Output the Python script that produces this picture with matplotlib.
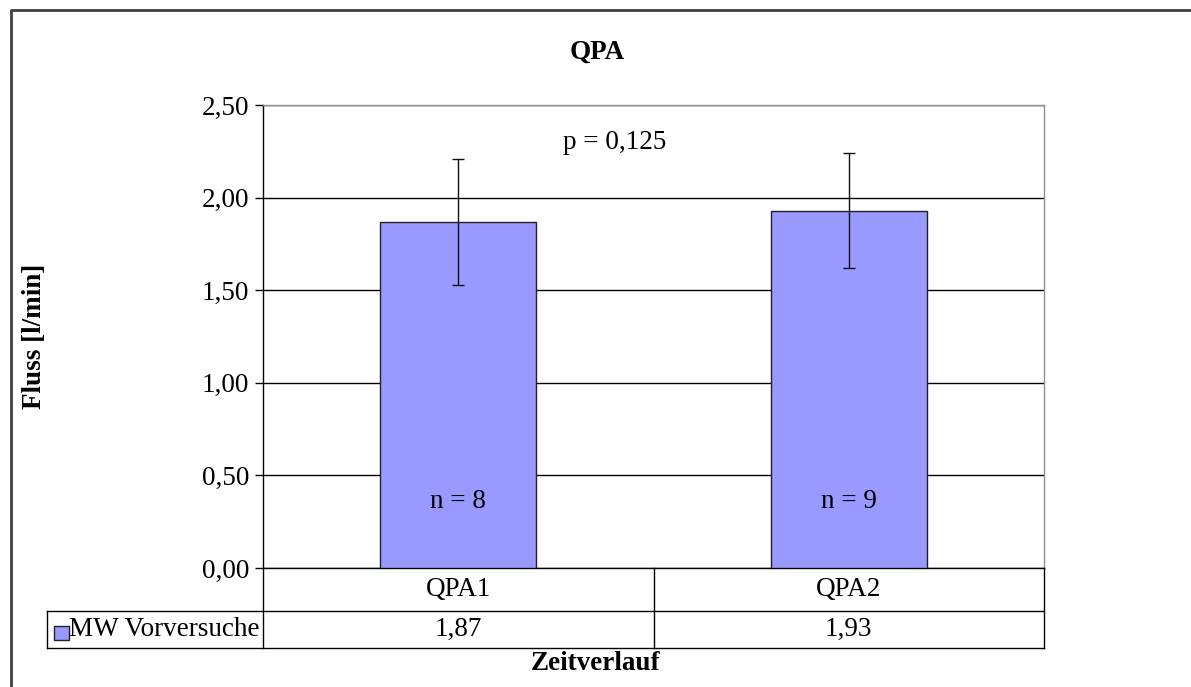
import matplotlib.pyplot as plt
from matplotlib.lines import Line2D
from matplotlib.patches import Rectangle

categories = ['QPA1', 'QPA2']
means = [1.87, 1.93]
errors = [0.34, 0.31]
n_labels = ['n = 8', 'n = 9']
table_values = ['1,87', '1,93']
series_name = 'MW Vorversuche'
p_text = 'p = 0,125'
yticks = [0.0, 0.5, 1.0, 1.5, 2.0, 2.5]

W, H = 1191, 687
FS = 19.5
plt.rcParams['font.family'] = ['Liberation Serif', 'DejaVu Serif']
fig = plt.figure(figsize=(W / 100, H / 100), dpi=100)


def fx(x):
    return x / W


def fy(y):
    return 1 - y / H


# plot area in pixels
left, right, top, bottom = 263, 1044, 105, 568
ax = fig.add_axes([fx(left), fy(bottom), fx(right - left), (bottom - top) / H])

x = list(range(len(categories)))
ax.bar(x, means, width=0.4, color='#9999FF', edgecolor='#222222', linewidth=1, zorder=3)
ax.errorbar(x, means, yerr=errors, fmt='none', ecolor='#111111', elinewidth=1,
            capsize=4, capthick=1, zorder=4)
for i, lab in enumerate(n_labels):
    ax.text(x[i], 0.36, lab, ha='center', va='center', fontsize=FS, zorder=5)
ax.text(0.4, 2.3, p_text, ha='center', va='center', fontsize=FS)

ax.set_xlim(-0.5, len(categories) - 0.5)
ax.set_ylim(0, 2.5)
ax.set_yticks(yticks)
ax.set_yticklabels([f'{v:.2f}'.replace('.', ',') for v in yticks], fontsize=FS)
ax.set_xticks([])
ax.grid(axis='y', color='black', linewidth=1, zorder=1)
ax.tick_params(axis='y', length=6, width=1, pad=4, direction='out')
ax.spines['left'].set_color('black')
ax.spines['bottom'].set_color('black')
ax.spines['top'].set_color('#909090')
ax.spines['right'].set_color('#909090')
for s in ax.spines.values():
    s.set_linewidth(1)

# data table below the axis
fig.canvas.draw()
to_px = lambda xv: (ax.transData.transform((xv, 0))[0])
col_edges = [to_px(v) / (fig.dpi * fig.get_figwidth()) * W for v in [-0.5, 0.5, 1.5]]
row1, row2, row3 = 568, 611, 648
legend_left = 47


def hline(x0, x1, y, c='black'):
    fig.add_artist(Line2D([fx(x0), fx(x1)], [fy(y), fy(y)], color=c, linewidth=1))


def vline(xp, y0, y1, c='black'):
    fig.add_artist(Line2D([fx(xp), fx(xp)], [fy(y0), fy(y1)], color=c, linewidth=1))


hline(legend_left, col_edges[-1], row2)
hline(legend_left, col_edges[-1], row3)
vline(legend_left, row2, row3)
for ce in col_edges:
    vline(ce, row1, row3)

for i, cat in enumerate(categories):
    cx = (col_edges[i] + col_edges[i + 1]) / 2
    fig.text(fx(cx), fy((row1 + row2) / 2), cat, ha='center', va='center', fontsize=FS)
    fig.text(fx(cx), fy((row2 + row3) / 2), table_values[i], ha='center', va='center', fontsize=FS)

fig.add_artist(Rectangle((fx(54), fy(640)), fx(15), 14 / H, facecolor='#9999FF',
                         edgecolor='#222222', linewidth=1))
fig.text(fx(69), fy((row2 + row3) / 2), series_name, ha='left', va='center', fontsize=FS)

# titles
fig.text(fx(597), fy(52), 'QPA', ha='center', va='center', fontsize=FS, fontweight='bold')
fig.text(fx(596), fy(664), 'Zeitverlauf', ha='center', va='center', fontsize=FS, fontweight='bold')
fig.text(fx(35), fy(336), 'Fluss [l/min]', ha='center', va='center', rotation=90,
         fontsize=FS, fontweight='bold')

# outer chart frame (cut at right and bottom)
fig.add_artist(Line2D([fx(11), fx(11), fx(W)], [fy(H), fy(10), fy(10)],
                      color='#404040', linewidth=2))

fig.savefig('out.png', dpi=100)
